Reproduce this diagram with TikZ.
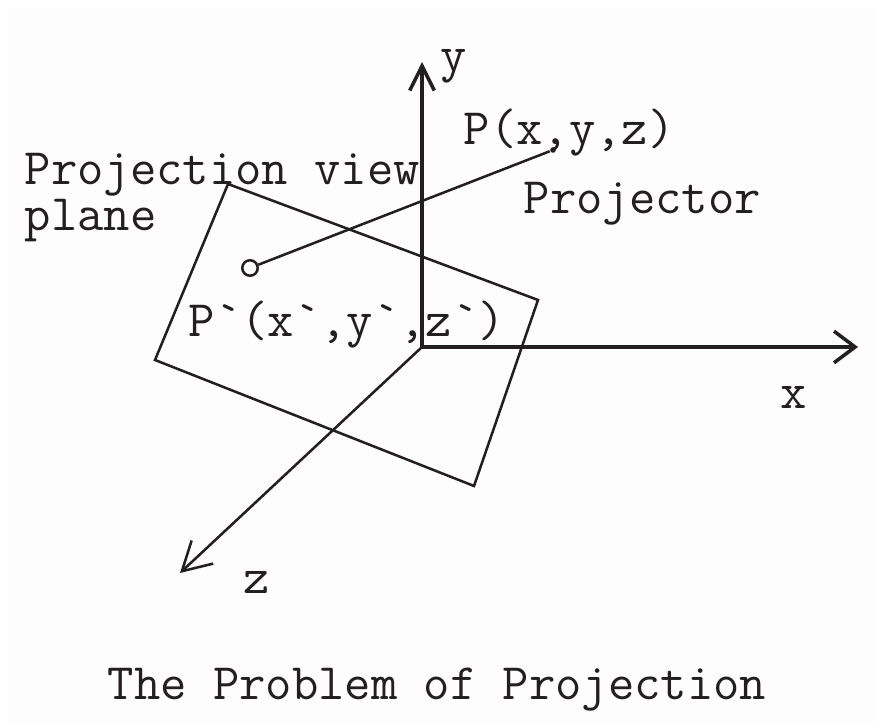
\documentclass[tikz,border=0pt]{standalone}
\usepackage{tikz}
\usetikzlibrary{arrows.meta}
\usepackage{xcolor}
\definecolor{ink}{HTML}{231F20}
\definecolor{paper}{HTML}{FDFDFD}
\tikzset{
  axisline/.style={ink,line width=1pt},
  thinline/.style={ink,line width=0.72pt},
  lbl/.style={ink,font=\fontsize{14.55}{12.2}\selectfont\ttfamily,anchor=base west,inner sep=0pt},
}
\newcommand{\tick}{\textasciigrave}

\begin{document}
\begin{tikzpicture}
  \useasboundingbox (0,0) rectangle (8.76,7.23);
  \fill[paper] (0.08,0) rectangle (8.76,7.15);

  % Axes
  \coordinate (origin) at (4.22,3.76);
  \coordinate (ytip) at (4.22,6.61);
  \coordinate (xtip) at (8.58,3.76);
  \coordinate (ztip) at (1.80,1.50);
  \draw[axisline,-{Straight Barb[length=7pt,width=7pt]}] (origin) -- (ytip);
  \draw[axisline,-{Straight Barb[length=6pt,width=9pt]}] (origin) -- (xtip);
  \draw[thinline,-{Straight Barb[length=8pt,width=9pt]}] (origin) -- (ztip);
  \node[lbl] (ylabel) at (4.40,6.51) {y};
  \node[lbl] (xlabel) at (7.80,3.14) {x};
  \node[lbl] (zlabel) at (2.43,1.29) {z};

  % View plane
  \coordinate (planeA) at (2.28,5.39);
  \coordinate (planeB) at (5.38,4.23);
  \coordinate (planeC) at (4.74,2.37);
  \coordinate (planeD) at (1.55,3.63);
  \draw[thinline] (planeA) -- (planeB) -- (planeC) -- (planeD) -- cycle;
  \node[lbl,align=left] (viewlabel) at (0.24,4.92) {Projection view\\plane};

  % Projector
  \node[circle,draw=ink,line width=0.72pt,inner sep=0pt,minimum size=4.4pt] (pimage) at (2.50,4.55) {};
  \node[circle,fill=ink,inner sep=0pt,minimum size=1.6pt] (pobject) at (5.53,5.73) {};
  \draw[thinline] (pimage) -- (pobject);
  \node[lbl] (objlabel) at (4.63,5.78) {P(x,y,z)};
  \node[lbl] (projlabel) at (5.23,5.09) {Projector};
  \node[lbl] (imglabel) at (1.88,3.86) {P\tick(x\tick,y\tick,z\tick)};

  % Caption
  \node[lbl] (caption) at (1.07,0.23) {The Problem of Projection};
\end{tikzpicture}
\end{document}
